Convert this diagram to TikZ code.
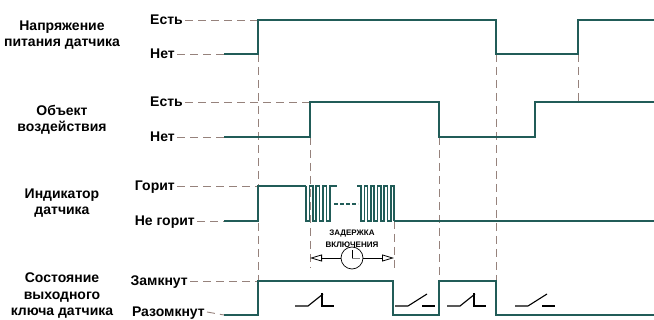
\documentclass[tikz,border=0pt]{standalone}
\usepackage{fontspec}
\setmainfont{Liberation Sans}
\usetikzlibrary{arrows.meta}
\definecolor{sigteal}{RGB}{33,92,88}
\definecolor{guidegray}{RGB}{150,130,124}
\tikzset{
    signal/.style={draw=sigteal, line width=2.8pt},
    pulse/.style={draw=sigteal, line width=1.6pt},
    guide/.style={draw=guidegray, line width=0.9pt, dash pattern=on 8pt off 5pt},
    swline/.style={line width=1.1pt},
    lvl/.style={anchor=east, inner sep=2pt, text height=10pt, text depth=0pt, font=\fontsize{14}{16}\selectfont\bfseries},
    signame/.style={align=center, font=\fontsize{14}{16.5}\selectfont\bfseries},
    swclosed/.pic={\draw[swline](0,0)--(13,0)--(28,-12); \draw[swline](27,-13)--(27,0)--(39,0);},
    swopen/.pic={\draw[swline](0,0)--(13,0)--(32,-12); \draw[swline](27,0)--(40,0);}
}

\begin{document}
\begin{tikzpicture}[x=1pt, y=-1pt]
    \useasboundingbox(0, 0) rectangle (654, 320);
    \node[signame](vname)at(62, 35){Напряжение\\питания датчика};
    \node[signame](oname)at(62, 120){Объект\\воздействия};
    \node[signame](iname)at(62, 203){Индикатор\\датчика};
    \node[signame](kname)at(62, 296){Состояние\\выходного\\ключа датчика};
    \node[lvl](von)at(185, 20){Есть};
    \node[lvl](voff)at(177, 54){Нет};
    \node[lvl](oon)at(185, 102){Есть};
    \node[lvl](ooff)at(177, 137){Нет};
    \node[lvl](ion)at(177, 186){Горит};
    \node[lvl](ioff)at(197, 221){Не горит};
    \node[lvl](kon)at(190, 281){Замкнут};
    \node[lvl](koff)at(207, 312){Разомкнут};
    \draw[guide](von.east)--(258, 20);
    \draw[guide](voff.east)--(224, 54);
    \draw[guide](oon.east)--(310, 102);
    \draw[guide](ooff.east)--(224, 137);
    \draw[guide](ion.east)--(258, 186);
    \draw[guide](ioff.east)--(224, 221);
    \draw[guide](kon.east)--(258, 281);
    \draw[guide](koff.east)--(224, 315);
    \draw[guide](258, 54)--(258, 281);
    \draw[guide](310, 137)--(310, 268);
    \draw[guide](394, 221)--(394, 268);
    \draw[guide](439, 137)--(439, 281);
    \draw[guide](496, 54)--(496, 281);
    \draw[guide](578, 54)--(578, 102);
    \draw[signal](224, 54)--(258, 54)--(258, 20)--(496, 20)--(496, 54)--(578, 54)--(578, 20)--(654, 20);
    \draw[signal](224, 137)--(310, 137)--(310, 102)--(439, 102)--(439, 137)--(535, 137)--(535, 102)--(654, 102);
    \draw[signal](224, 221)--(258, 221)--(258, 186)--(306, 186);
    \draw[pulse](306, 186)\foreach \k in {1,...,4}{--++(0, 35)--++(3.4, 0)--++(0, -35)--++(3.4, 0)}--++(4, 0);
    \draw[pulse, dash pattern=on 4pt off 2pt](334, 204)--(358, 204);
    \draw[pulse](357, 186)--(361, 186)\foreach \k in {1,...,5}{--++(0, 35)--++(3.3, 0)--++(0, -35)--++(3.3, 0)}--++(0, 35);
    \draw[signal](394, 221)--(654, 221);
    \draw[signal](224, 315)--(258, 315)--(258, 281)--(393, 281)--(393, 315)--(439, 315)--(439, 281)--(496, 281)--(496, 315)--(654, 315);
    \node[align=center, font=\fontsize{8}{11.5}\selectfont\bfseries](delay)at(352, 239){ЗАДЕРЖКА\\ВКЛЮЧЕНИЯ};
    \node[draw, circle, minimum size=22pt, inner sep=0pt, line width=0.7pt](clock)at(352, 258){};
    \draw[line width=0.8pt, -{Triangle[open, length=12pt, width=7pt]}](clock.west)--(310, 258);
    \draw[line width=0.8pt, -{Triangle[open, length=12pt, width=7pt]}](clock.east)--(394, 258);
    \draw[line width=0.6pt](clock.center)--++(0, -8);
    \draw[line width=0.6pt, gray](clock.center)--++(8, 0);
    \pic at(295, 306){swclosed};
    \pic at(395, 306){swopen};
    \pic at(447, 306){swclosed};
    \pic at(515, 306){swopen};
\end{tikzpicture}
\end{document}
